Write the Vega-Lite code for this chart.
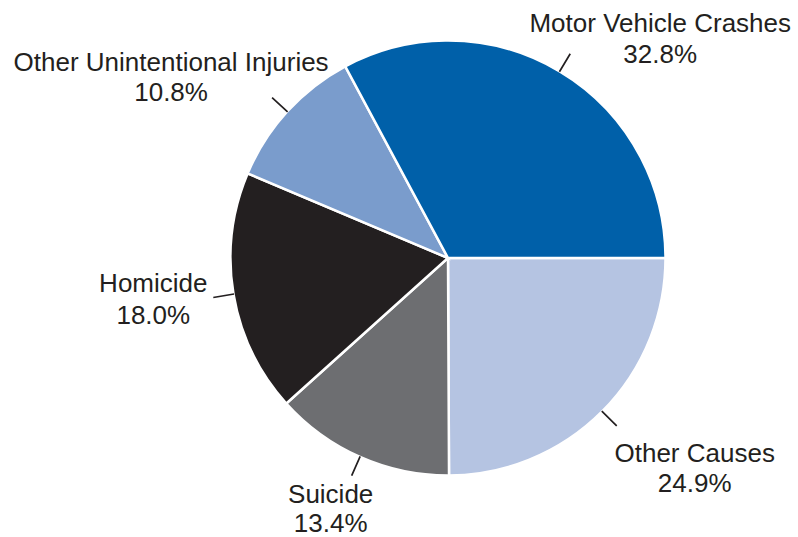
{
  "$schema": "https://vega.github.io/schema/vega-lite/v6.json",
  "autosize": {"type": "none"},
  "width": 700,
  "height": 516,
  "padding": {"left": 98, "top": 0, "right": 0, "bottom": 21},
  "background": "white",
  "config": {"view": {"stroke": null}},
  "data": {
    "values": [
      {"cause": "Other Causes", "pct": 24.9},
      {"cause": "Suicide", "pct": 13.4},
      {"cause": "Homicide", "pct": 18.0},
      {"cause": "Other Unintentional Injuries", "pct": 10.8},
      {"cause": "Motor Vehicle Crashes", "pct": 32.8}
    ]
  },
  "transform": [
    {"window": [{"op": "row_number", "as": "rank"}]},
    {"calculate": "datum.cause + '\\n' + format(datum.pct, '.1f') + '%'", "as": "label"}
  ],
  "encoding": {
    "theta": {"field": "pct", "type": "quantitative", "stack": true, "scale": {"range": [1.5707963, 7.8539816]}},
    "order": {"field": "rank", "type": "quantitative"}
  },
  "layer": [
    {
      "mark": {"type": "arc", "outerRadius": 217.5, "stroke": "white", "strokeWidth": 2.5},
      "encoding": {
        "color": {
          "field": "cause", "type": "nominal", "legend": null,
          "scale": {
            "domain": ["Other Causes", "Suicide", "Homicide", "Other Unintentional Injuries", "Motor Vehicle Crashes"],
            "range": ["#B5C4E2", "#6D6E71", "#231F20", "#7A9CCC", "#0060A9"]
          }
        }
      }
    },
    {
      "mark": {"type": "arc", "innerRadius": 217, "outerRadius": 238, "padAngle": 3, "fill": "transparent", "stroke": "#231F20", "strokeWidth": 1.7},
      "encoding": {"detail": {"field": "cause", "type": "nominal"}}
    },
    {
      "mark": {"type": "text", "radius": 238, "dx": 90, "dy": -22, "align": "center", "baseline": "alphabetic", "font": "Liberation Sans", "fontSize": 26, "lineBreak": "\n", "lineHeight": 31, "fill": "#231F20"},
      "encoding": {
        "detail": {"field": "cause", "type": "nominal"},
        "text": {"condition": {"test": "datum.cause === 'Motor Vehicle Crashes'", "field": "label"}, "value": ""}
      }
    },
    {
      "mark": {"type": "text", "radius": 238, "dx": -101, "dy": -27, "align": "center", "baseline": "alphabetic", "font": "Liberation Sans", "fontSize": 26, "lineBreak": "\n", "lineHeight": 30, "fill": "#231F20"},
      "encoding": {
        "detail": {"field": "cause", "type": "nominal"},
        "text": {"condition": {"test": "datum.cause === 'Other Unintentional Injuries'", "field": "label"}, "value": ""}
      }
    },
    {
      "mark": {"type": "text", "radius": 238, "dx": -60, "dy": -5, "align": "center", "baseline": "alphabetic", "font": "Liberation Sans", "fontSize": 26, "lineBreak": "\n", "lineHeight": 32, "fill": "#231F20"},
      "encoding": {
        "detail": {"field": "cause", "type": "nominal"},
        "text": {"condition": {"test": "datum.cause === 'Homicide'", "field": "label"}, "value": ""}
      }
    },
    {
      "mark": {"type": "text", "radius": 238, "dx": -21, "dy": 27, "align": "center", "baseline": "alphabetic", "font": "Liberation Sans", "fontSize": 26, "lineBreak": "\n", "lineHeight": 29, "fill": "#231F20"},
      "encoding": {
        "detail": {"field": "cause", "type": "nominal"},
        "text": {"condition": {"test": "datum.cause === 'Suicide'", "field": "label"}, "value": ""}
      }
    },
    {
      "mark": {"type": "text", "radius": 238, "dx": 78, "dy": 36, "align": "center", "baseline": "alphabetic", "font": "Liberation Sans", "fontSize": 26, "lineBreak": "\n", "lineHeight": 30, "fill": "#231F20"},
      "encoding": {
        "detail": {"field": "cause", "type": "nominal"},
        "text": {"condition": {"test": "datum.cause === 'Other Causes'", "field": "label"}, "value": ""}
      }
    }
  ]
}
